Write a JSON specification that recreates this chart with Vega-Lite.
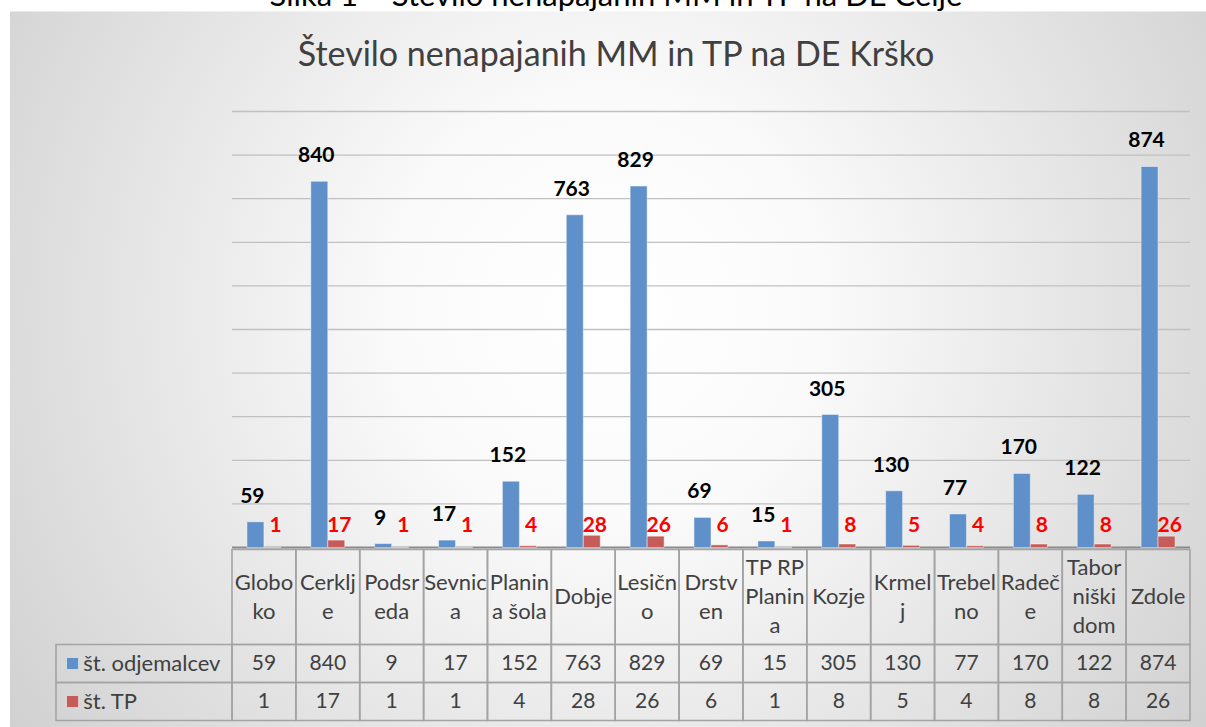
{
  "$schema": "https://vega.github.io/schema/vega-lite/v6.json",
  "width": 1206,
  "height": 727,
  "autosize": {"type": "fit", "contains": "padding"},
  "padding": {"top": -19.5, "left": 10, "right": 0, "bottom": 0},
  "background": "#ffffff",
  "view": {
    "stroke": null,
    "fill": {
      "gradient": "radial",
      "x1": 0.5, "y1": 0.45, "x2": 0.5, "y2": 0.45, "r1": 0, "r2": 0.72,
      "stops": [
        {"offset": 0, "color": "#ffffff"},
        {"offset": 0.25, "color": "#fafafa"},
        {"offset": 1, "color": "#c6c6c6"}
      ]
    }
  },
  "title": {
    "text": "Slika 1 – Število nenapajanih MM in TP na DE Celje",
    "subtitle": "Število nenapajanih MM in TP na DE Krško",
    "font": "Lato",
    "fontSize": 31,
    "fontWeight": "normal",
    "color": "#000000",
    "subtitleFont": "Lato",
    "subtitleFontSize": 34,
    "subtitleFontWeight": "normal",
    "subtitleColor": "#404040",
    "subtitlePadding": 26,
    "anchor": "middle",
    "offset": -62,
    "dx": 8
  },
  "datasets": {
    "meritve": [
      {"kraj": "Globoko", "serija": "št. odjemalcev", "vrednost": 59},
      {"kraj": "Cerklje", "serija": "št. odjemalcev", "vrednost": 840},
      {"kraj": "Podsreda", "serija": "št. odjemalcev", "vrednost": 9},
      {"kraj": "Sevnica", "serija": "št. odjemalcev", "vrednost": 17},
      {"kraj": "Planina šola", "serija": "št. odjemalcev", "vrednost": 152},
      {"kraj": "Dobje", "serija": "št. odjemalcev", "vrednost": 763},
      {"kraj": "Lesično", "serija": "št. odjemalcev", "vrednost": 829},
      {"kraj": "Drstven", "serija": "št. odjemalcev", "vrednost": 69},
      {"kraj": "TP RP Planina", "serija": "št. odjemalcev", "vrednost": 15},
      {"kraj": "Kozje", "serija": "št. odjemalcev", "vrednost": 305},
      {"kraj": "Krmelj", "serija": "št. odjemalcev", "vrednost": 130},
      {"kraj": "Trebelno", "serija": "št. odjemalcev", "vrednost": 77},
      {"kraj": "Radeče", "serija": "št. odjemalcev", "vrednost": 170},
      {"kraj": "Taborniški dom", "serija": "št. odjemalcev", "vrednost": 122},
      {"kraj": "Zdole", "serija": "št. odjemalcev", "vrednost": 874},
      {"kraj": "Globoko", "serija": "št. TP", "vrednost": 1},
      {"kraj": "Cerklje", "serija": "št. TP", "vrednost": 17},
      {"kraj": "Podsreda", "serija": "št. TP", "vrednost": 1},
      {"kraj": "Sevnica", "serija": "št. TP", "vrednost": 1},
      {"kraj": "Planina šola", "serija": "št. TP", "vrednost": 4},
      {"kraj": "Dobje", "serija": "št. TP", "vrednost": 28},
      {"kraj": "Lesično", "serija": "št. TP", "vrednost": 26},
      {"kraj": "Drstven", "serija": "št. TP", "vrednost": 6},
      {"kraj": "TP RP Planina", "serija": "št. TP", "vrednost": 1},
      {"kraj": "Kozje", "serija": "št. TP", "vrednost": 8},
      {"kraj": "Krmelj", "serija": "št. TP", "vrednost": 5},
      {"kraj": "Trebelno", "serija": "št. TP", "vrednost": 4},
      {"kraj": "Radeče", "serija": "št. TP", "vrednost": 8},
      {"kraj": "Taborniški dom", "serija": "št. TP", "vrednost": 8},
      {"kraj": "Zdole", "serija": "št. TP", "vrednost": 26}
    ],
    "kraji": [
      {"kraj": "Globoko", "glava": ["Globo", "ko"]},
      {"kraj": "Cerklje", "glava": ["Cerklj", "e"]},
      {"kraj": "Podsreda", "glava": ["Podsr", "eda"]},
      {"kraj": "Sevnica", "glava": ["Sevnic", "a"]},
      {"kraj": "Planina šola", "glava": ["Planin", "a šola"]},
      {"kraj": "Dobje", "glava": ["Dobje"]},
      {"kraj": "Lesično", "glava": ["Lesičn", "o"]},
      {"kraj": "Drstven", "glava": ["Drstv", "en"]},
      {"kraj": "TP RP Planina", "glava": ["TP RP", "Planin", "a"]},
      {"kraj": "Kozje", "glava": ["Kozje"]},
      {"kraj": "Krmelj", "glava": ["Krmel", "j"]},
      {"kraj": "Trebelno", "glava": ["Trebel", "no"]},
      {"kraj": "Radeče", "glava": ["Radeč", "e"]},
      {"kraj": "Taborniški dom", "glava": ["Tabor", "niški", "dom"]},
      {"kraj": "Zdole", "glava": ["Zdole"]}
    ],
    "mreza": [
      {"v": 100}, {"v": 200}, {"v": 300}, {"v": 400}, {"v": 500},
      {"v": 600}, {"v": 700}, {"v": 800}, {"v": 900}, {"v": 1000}, {"v": 0}
    ]
  },
  "resolve": {"scale": {"x": "independent", "y": "independent", "xOffset": "independent", "color": "independent"}},
  "layer": [
    {
      "data": {"name": "mreza"},
      "mark": {"type": "rule"},
      "encoding": {
        "x": {"datum": 0, "type": "quantitative", "scale": {"domain": [0, 1], "range": [222, 1180], "nice": false, "zero": false}},
        "x2": {"datum": 1},
        "y": {"field": "v", "type": "quantitative", "scale": {"domain": [0, 1000], "range": [536, 100], "nice": false}},
        "color": {"condition": {"test": "datum.v === 0", "value": "#8a8a8a"}, "value": "#c0c0c0"},
        "strokeWidth": {"condition": {"test": "datum.v === 0", "value": 2}, "value": 1.3}
      }
    },
    {
      "data": {"name": "meritve"},
      "mark": {"type": "bar", "stroke": "#ffffff", "strokeOpacity": 0.45, "strokeWidth": 1},
      "encoding": {
        "x": {"field": "kraj", "type": "nominal", "scale": {"domain": ["Globoko", "Cerklje", "Podsreda", "Sevnica", "Planina šola", "Dobje", "Lesično", "Drstven", "TP RP Planina", "Kozje", "Krmelj", "Trebelno", "Radeče", "Taborniški dom", "Zdole"], "range": [222, 1180], "paddingInner": 0, "paddingOuter": 0}},
        "xOffset": {"field": "serija", "type": "nominal", "scale": {"domain": ["št. odjemalcev", "št. TP"], "paddingInner": 0, "paddingOuter": 0.88}},
        "y": {"field": "vrednost", "type": "quantitative", "scale": {"domain": [0, 1000], "range": [536, 100], "nice": false}},
        "color": {"field": "serija", "type": "nominal", "scale": {"domain": ["št. odjemalcev", "št. TP"], "range": ["#6090c9", "#c65c5a"]}}
      }
    },
    {
      "data": {"name": "meritve"},
      "transform": [{"filter": {"field": "serija", "equal": "št. odjemalcev"}}],
      "mark": {"type": "text", "font": "Lato", "fontSize": 21, "fontWeight": "bold", "color": "#000000", "baseline": "alphabetic", "dy": -19},
      "encoding": {
        "x": {"field": "kraj", "type": "nominal", "scale": {"domain": ["Globoko", "Cerklje", "Podsreda", "Sevnica", "Planina šola", "Dobje", "Lesično", "Drstven", "TP RP Planina", "Kozje", "Krmelj", "Trebelno", "Radeče", "Taborniški dom", "Zdole"], "range": [222, 1180], "paddingInner": 0, "paddingOuter": 0}},
        "xOffset": {"field": "serija", "type": "nominal", "scale": {"domain": ["št. odjemalcev", "št. TP"], "paddingInner": 0, "paddingOuter": 0.88}},
        "y": {"field": "vrednost", "type": "quantitative", "scale": {"domain": [0, 1000], "range": [536, 100], "nice": false}},
        "text": {"field": "vrednost", "type": "quantitative"}
      }
    },
    {
      "data": {"name": "meritve"},
      "transform": [{"filter": {"field": "serija", "equal": "št. TP"}}],
      "mark": {"type": "text", "font": "Lato", "fontSize": 21, "fontWeight": "bold", "color": "#ff0000", "baseline": "alphabetic", "dy": -16},
      "encoding": {
        "x": {"field": "kraj", "type": "nominal", "scale": {"domain": ["Globoko", "Cerklje", "Podsreda", "Sevnica", "Planina šola", "Dobje", "Lesično", "Drstven", "TP RP Planina", "Kozje", "Krmelj", "Trebelno", "Radeče", "Taborniški dom", "Zdole"], "range": [222, 1180], "paddingInner": 0, "paddingOuter": 0}},
        "xOffset": {"field": "serija", "type": "nominal", "scale": {"domain": ["št. odjemalcev", "št. TP"], "paddingInner": 0, "paddingOuter": 0.88}},
        "y": {"datum": 0, "type": "quantitative", "scale": {"domain": [0, 1000], "range": [536, 100], "nice": false}},
        "text": {"field": "vrednost", "type": "quantitative"}
      }
    },
    {
      "data": {"name": "kraji"},
      "mark": {"type": "rect", "fill": "transparent", "stroke": "#a3a3a3", "strokeWidth": 1.6},
      "encoding": {
        "x": {"field": "kraj", "type": "nominal", "scale": {"domain": ["Globoko", "Cerklje", "Podsreda", "Sevnica", "Planina šola", "Dobje", "Lesično", "Drstven", "TP RP Planina", "Kozje", "Krmelj", "Trebelno", "Radeče", "Taborniški dom", "Zdole"], "range": [222, 1180], "paddingInner": 0, "paddingOuter": 0}},
        "y": {"datum": "glava", "type": "nominal", "scale": {"domain": ["glava"], "range": [538, 633], "paddingInner": 0, "paddingOuter": 0}}
      }
    },
    {
      "data": {"name": "kraji"},
      "transform": [{"filter": "length(datum.glava) === 1"}],
      "mark": {"type": "text", "font": "Lato", "fontSize": 22, "color": "#404040", "baseline": "middle", "lineHeight": 29},
      "encoding": {
        "x": {"field": "kraj", "type": "nominal", "scale": {"domain": ["Globoko", "Cerklje", "Podsreda", "Sevnica", "Planina šola", "Dobje", "Lesično", "Drstven", "TP RP Planina", "Kozje", "Krmelj", "Trebelno", "Radeče", "Taborniški dom", "Zdole"], "range": [222, 1180], "paddingInner": 0, "paddingOuter": 0}},
        "y": {"datum": "glava", "type": "nominal", "scale": {"domain": ["glava"], "range": [538, 633], "paddingInner": 0, "paddingOuter": 0}},
        "text": {"field": "glava"}
      }
    },
    {
      "data": {"name": "kraji"},
      "transform": [{"filter": "length(datum.glava) === 2"}],
      "mark": {"type": "text", "font": "Lato", "fontSize": 22, "color": "#404040", "baseline": "middle", "lineHeight": 29, "dy": -14.5},
      "encoding": {
        "x": {"field": "kraj", "type": "nominal", "scale": {"domain": ["Globoko", "Cerklje", "Podsreda", "Sevnica", "Planina šola", "Dobje", "Lesično", "Drstven", "TP RP Planina", "Kozje", "Krmelj", "Trebelno", "Radeče", "Taborniški dom", "Zdole"], "range": [222, 1180], "paddingInner": 0, "paddingOuter": 0}},
        "y": {"datum": "glava", "type": "nominal", "scale": {"domain": ["glava"], "range": [538, 633], "paddingInner": 0, "paddingOuter": 0}},
        "text": {"field": "glava"}
      }
    },
    {
      "data": {"name": "kraji"},
      "transform": [{"filter": "length(datum.glava) === 3"}],
      "mark": {"type": "text", "font": "Lato", "fontSize": 22, "color": "#404040", "baseline": "middle", "lineHeight": 29, "dy": -29},
      "encoding": {
        "x": {"field": "kraj", "type": "nominal", "scale": {"domain": ["Globoko", "Cerklje", "Podsreda", "Sevnica", "Planina šola", "Dobje", "Lesično", "Drstven", "TP RP Planina", "Kozje", "Krmelj", "Trebelno", "Radeče", "Taborniški dom", "Zdole"], "range": [222, 1180], "paddingInner": 0, "paddingOuter": 0}},
        "y": {"datum": "glava", "type": "nominal", "scale": {"domain": ["glava"], "range": [538, 633], "paddingInner": 0, "paddingOuter": 0}},
        "text": {"field": "glava"}
      }
    },
    {
      "data": {"name": "meritve"},
      "mark": {"type": "rect", "fill": "transparent", "stroke": "#a3a3a3", "strokeWidth": 1.6},
      "encoding": {
        "x": {"field": "kraj", "type": "nominal", "scale": {"domain": ["Globoko", "Cerklje", "Podsreda", "Sevnica", "Planina šola", "Dobje", "Lesično", "Drstven", "TP RP Planina", "Kozje", "Krmelj", "Trebelno", "Radeče", "Taborniški dom", "Zdole"], "range": [222, 1180], "paddingInner": 0, "paddingOuter": 0}},
        "y": {"field": "serija", "type": "nominal", "scale": {"domain": ["št. odjemalcev", "št. TP"], "range": [633, 709], "paddingInner": 0, "paddingOuter": 0}}
      }
    },
    {
      "data": {"name": "meritve"},
      "mark": {"type": "text", "font": "Lato", "fontSize": 21, "color": "#404040", "baseline": "middle"},
      "encoding": {
        "x": {"field": "kraj", "type": "nominal", "scale": {"domain": ["Globoko", "Cerklje", "Podsreda", "Sevnica", "Planina šola", "Dobje", "Lesično", "Drstven", "TP RP Planina", "Kozje", "Krmelj", "Trebelno", "Radeče", "Taborniški dom", "Zdole"], "range": [222, 1180], "paddingInner": 0, "paddingOuter": 0}},
        "y": {"field": "serija", "type": "nominal", "scale": {"domain": ["št. odjemalcev", "št. TP"], "range": [633, 709], "paddingInner": 0, "paddingOuter": 0}},
        "text": {"field": "vrednost", "type": "quantitative"}
      }
    },
    {
      "data": {"name": "meritve"},
      "transform": [{"filter": {"field": "kraj", "equal": "Globoko"}}],
      "mark": {"type": "rect", "fill": "transparent", "stroke": "#a3a3a3", "strokeWidth": 1.6},
      "encoding": {
        "x": {"datum": 0, "type": "quantitative", "scale": {"domain": [0, 1], "range": [46, 222], "nice": false, "zero": false}},
        "x2": {"datum": 1},
        "y": {"field": "serija", "type": "nominal", "scale": {"domain": ["št. odjemalcev", "št. TP"], "range": [633, 709], "paddingInner": 0, "paddingOuter": 0}}
      }
    },
    {
      "data": {"name": "meritve"},
      "transform": [{"filter": {"field": "kraj", "equal": "Globoko"}}],
      "mark": {"type": "point", "shape": "square", "filled": true, "size": 144, "opacity": 1, "stroke": "#ffffff", "strokeOpacity": 0.5, "strokeWidth": 1},
      "encoding": {
        "x": {"datum": 0.094, "type": "quantitative", "scale": {"domain": [0, 1], "range": [46, 222], "nice": false, "zero": false}},
        "y": {"field": "serija", "type": "nominal", "scale": {"domain": ["št. odjemalcev", "št. TP"], "range": [633, 709], "paddingInner": 0, "paddingOuter": 0}},
        "color": {"field": "serija", "type": "nominal", "scale": {"domain": ["št. odjemalcev", "št. TP"], "range": ["#6090c9", "#c65c5a"]}}
      }
    },
    {
      "data": {"name": "meritve"},
      "transform": [{"filter": {"field": "kraj", "equal": "Globoko"}}],
      "mark": {"type": "text", "font": "Lato", "fontSize": 22, "color": "#404040", "baseline": "middle", "align": "left"},
      "encoding": {
        "x": {"datum": 0.155, "type": "quantitative", "scale": {"domain": [0, 1], "range": [46, 222], "nice": false, "zero": false}},
        "y": {"field": "serija", "type": "nominal", "scale": {"domain": ["št. odjemalcev", "št. TP"], "range": [633, 709], "paddingInner": 0, "paddingOuter": 0}},
        "text": {"field": "serija", "type": "nominal"}
      }
    }
  ],
  "config": {
    "font": "Lato",
    "axis": {"disable": true},
    "legend": {"disable": true}
  }
}
